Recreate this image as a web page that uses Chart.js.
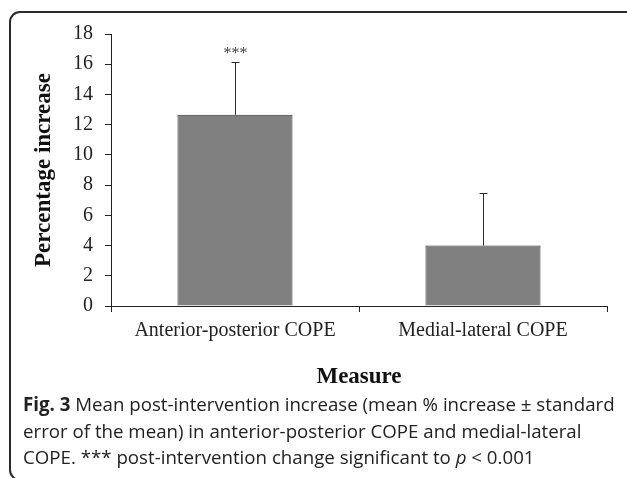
<!DOCTYPE html>
<html>
<head>
<meta charset="utf-8">
<script src="https://cdn.jsdelivr.net/npm/chart.js@4"></script>
<style>
  body { margin: 0; width: 627px; height: 478px; overflow: hidden; background: #fff; position: relative; }
  #frame {
    position: absolute; left: 9px; top: 11px; width: 700px; height: 470px;
    box-sizing: border-box; border: 2px solid #2b2b2b; border-radius: 11px;
  }
  #chart { position: absolute; left: 0; top: 0; }
  #caption {
    position: absolute; left: 23px; top: 391px; width: 604px;
    font-family: "Open Sans", sans-serif; font-size: 18.7px; line-height: 26.5px; color: #222;
    white-space: nowrap;
  }
</style>
</head>
<body>
<div id="frame"></div>
<canvas id="chart" width="627" height="478"></canvas>
<div id="caption">
  <b>Fig. 3</b> Mean post-intervention increase (mean % increase ± standard<br>
  error of the mean) in anterior-posterior COPE and medial-lateral<br>
  COPE. *** post-intervention change significant to <i>p</i> &lt; 0.001
</div>
<script>
const measures = ['Anterior-posterior COPE', 'Medial-lateral COPE'];
const meanIncrease = [12.65, 4.0];
const stdError = [3.5, 3.45];
const significance = ['***', ''];
const yTicks = [0, 2, 4, 6, 8, 10, 12, 14, 16, 18];

const serif = 'Liberation Serif';
const ink = '#222';

// upper error bars + significance stars, positioned via the chart scales
const errorBars = {
  id: 'errorBars',
  afterDatasetsDraw(chart) {
    const ctx = chart.ctx;
    const y = chart.scales.y;
    const meta = chart.getDatasetMeta(0);
    ctx.save();
    ctx.strokeStyle = '#2b2b2b';
    ctx.lineWidth = 1;
    meta.data.forEach((bar, i) => {
      const x = Math.round(bar.x) + 0.5;
      const yMean = y.getPixelForValue(meanIncrease[i]);
      const yTop = y.getPixelForValue(meanIncrease[i] + stdError[i]);
      ctx.beginPath();
      ctx.moveTo(x, yMean);
      ctx.lineTo(x, Math.round(yTop) + 0.5);
      ctx.moveTo(x - 4, Math.round(yTop) + 0.5);
      ctx.lineTo(x + 4, Math.round(yTop) + 0.5);
      ctx.stroke();
      if (significance[i]) {
        ctx.fillStyle = '#444';
        ctx.font = '16px "' + serif + '"';
        ctx.textAlign = 'center';
        ctx.textBaseline = 'alphabetic';
        ctx.fillText(significance[i], x, yTop - 4);
      }
    });
    ctx.restore();
  }
};

new Chart(document.getElementById('chart'), {
  type: 'bar',
  data: {
    labels: measures,
    datasets: [{
      data: meanIncrease,
      backgroundColor: '#808080',
      borderColor: '#333333',
      borderWidth: 1,
      categoryPercentage: 1,
      barPercentage: 0.464
    }]
  },
  options: {
    responsive: false,
    animation: false,
    layout: { padding: { top: 34, right: 20, bottom: 87, left: 0 } },
    plugins: { legend: { display: false }, tooltip: { enabled: false } },
    scales: {
      x: {
        offset: true,
        grid: { offset: true, drawOnChartArea: false, drawTicks: true, tickLength: 6, color: '#222' },
        border: { display: true, color: '#222', width: 1 },
        ticks: { color: ink, font: { family: serif, size: 20 }, padding: 7, maxRotation: 0 },
        title: { display: true, text: 'Measure', color: '#111', font: { family: serif, size: 23, weight: 'bold' }, padding: 0 },
        afterFit(scale) { scale.height = 85; }
      },
      y: {
        min: 0,
        max: 18,
        afterBuildTicks(scale) { scale.ticks = yTicks.map(v => ({ value: v })); },
        grid: { drawOnChartArea: false, drawTicks: true, tickLength: 6, color: '#222' },
        border: { display: true, color: '#222', width: 1 },
        ticks: { color: ink, font: { family: serif, size: 20 }, padding: 12 },
        title: { display: true, text: 'Percentage increase', color: '#111', font: { family: serif, size: 23, weight: 'bold' }, padding: { top: 30, bottom: 0 } },
        afterFit(scale) { scale.width = 111; }
      }
    }
  },
  plugins: [errorBars]
});
</script>
</body>
</html>
